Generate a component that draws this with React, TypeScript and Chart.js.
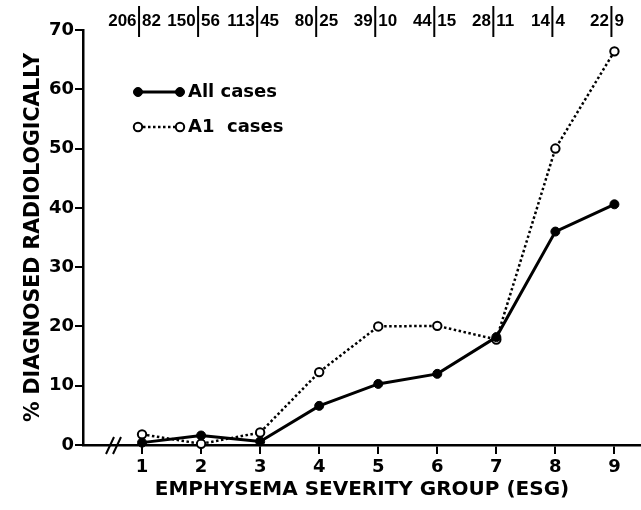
import React, { useEffect, useRef } from "react";
import { Chart, registerables } from "chart.js";
Chart.register(...registerables);

const groups = [1, 2, 3, 4, 5, 6, 7, 8, 9];
const allCases = [0.4, 1.6, 0.6, 6.6, 10.3, 12.0, 18.2, 36.0, 40.6];
const a1Cases = [1.8, 0.2, 2.1, 12.3, 20.0, 20.1, 17.8, 50.0, 66.4];
const allCounts = [206, 150, 113, 80, 39, 44, 28, 14, 22];
const a1Counts = [82, 56, 45, 25, 10, 15, 11, 4, 9];
const seriesLabels = ["All cases", "A1  cases"];
const xTitle = "EMPHYSEMA SEVERITY GROUP (ESG)";
const yTitle = "% DIAGNOSED RADIOLOGICALLY";

const FONT = "'DejaVu Sans', sans-serif";
const NUMFONT = "'Liberation Sans', Arial, sans-serif";
const INK = "#000";

const headerPlugin = {
  id: "header",
  afterDraw(chart: any) {
    const { ctx } = chart;
    const xs = chart.scales.x;
    ctx.save();
    ctx.fillStyle = INK;
    ctx.strokeStyle = INK;
    ctx.lineWidth = 2;
    ctx.font = `bold 17px ${NUMFONT}`;
    ctx.textBaseline = "middle";
    groups.forEach((g, i) => {
      const x = xs.getPixelForValue(g) - 3;
      ctx.beginPath();
      ctx.moveTo(x, 6);
      ctx.lineTo(x, 37);
      ctx.stroke();
      ctx.textAlign = "right";
      ctx.fillText(String(allCounts[i]), x - 2.5, 21);
      ctx.textAlign = "left";
      ctx.fillText(String(a1Counts[i]), x + 3, 21);
    });
    ctx.restore();
  },
};

const legendPlugin = {
  id: "customLegend",
  afterDraw(chart: any) {
    const { ctx } = chart;
    const rows = [
      { y: 92, ds: chart.data.datasets[0] },
      { y: 127, ds: chart.data.datasets[1] },
    ];
    ctx.save();
    rows.forEach(({ y, ds }, i) => {
      const x0 = 138;
      const x1 = 180;
      ctx.beginPath();
      ctx.strokeStyle = ds.borderColor;
      ctx.lineWidth = ds.borderWidth;
      ctx.setLineDash(ds.borderDash || []);
      ctx.moveTo(x0, y);
      ctx.lineTo(x1, y);
      ctx.stroke();
      ctx.setLineDash([]);
      [x0, x1].forEach((px) => {
        ctx.beginPath();
        ctx.arc(px, y, ds.pointRadius, 0, Math.PI * 2);
        ctx.fillStyle = ds.pointBackgroundColor;
        ctx.fill();
        ctx.lineWidth = ds.pointBorderWidth;
        ctx.strokeStyle = ds.pointBorderColor;
        ctx.stroke();
      });
      ctx.fillStyle = INK;
      ctx.font = `bold 18px ${FONT}`;
      ctx.textAlign = "left";
      ctx.textBaseline = "middle";
      ctx.fillText(seriesLabels[i], 188, y);
    });
    ctx.restore();
  },
};

const breakPlugin = {
  id: "axisBreak",
  afterDraw(chart: any) {
    const { ctx, chartArea } = chart;
    const b = chartArea.bottom;
    const l = chartArea.left;
    ctx.save();
    ctx.strokeStyle = INK;
    ctx.lineWidth = 2;
    [23, 30].forEach((dx) => {
      ctx.beginPath();
      ctx.moveTo(l + dx, b + 9);
      ctx.lineTo(l + dx + 8, b - 8);
      ctx.stroke();
    });
    ctx.restore();
  },
};

export default function App() {
  const ref = useRef<HTMLCanvasElement | null>(null);
  useEffect(() => {
    if (!ref.current) return;
    const chart = new Chart(ref.current, {
      type: "line",
      data: {
        datasets: [
          {
            label: seriesLabels[0],
            data: groups.map((g, i) => ({ x: g, y: allCases[i] })),
            borderColor: INK,
            borderWidth: 3,
            pointRadius: 4.5,
            pointBackgroundColor: INK,
            pointBorderColor: INK,
            pointBorderWidth: 1,
            tension: 0,
            clip: false,
          } as any,
          {
            label: seriesLabels[1],
            data: groups.map((g, i) => ({ x: g, y: a1Cases[i] })),
            borderColor: INK,
            borderWidth: 2.5,
            borderDash: [2.5, 2.5],
            pointRadius: 4.2,
            pointBackgroundColor: "#fff",
            pointBorderColor: INK,
            pointBorderWidth: 2,
            tension: 0,
            clip: false,
          } as any,
        ],
      },
      options: {
        animation: false,
        responsive: true,
        maintainAspectRatio: false,
        layout: { autoPadding: false, padding: { top: 30, right: 0, left: 0, bottom: 0 } },
        plugins: { legend: { display: false }, tooltip: { enabled: false } },
        scales: {
          x: {
            type: "linear",
            min: 0,
            max: 9.45,
            afterBuildTicks: (s: any) => {
              s.ticks = groups.map((g) => ({ value: g }));
            },
            afterFit: (s: any) => {
              s.height = 65;
              s.paddingRight = 0;
              s.paddingLeft = 0;
            },
            border: { color: INK, width: 2.5 },
            grid: { drawOnChartArea: false, color: INK, lineWidth: 2, tickLength: 9 },
            ticks: { color: INK, padding: 3, font: { family: FONT, size: 18, weight: "bold" } },
            title: {
              display: true,
              text: xTitle,
              color: INK,
              padding: { top: 0, bottom: 8 },
              font: { family: FONT, size: 20, weight: "bold" },
            },
          },
          y: {
            type: "linear",
            min: 0,
            max: 70,
            ticks: { stepSize: 10, color: INK, padding: 1, font: { family: FONT, size: 18, weight: "bold" } },
            afterFit: (s: any) => {
              s.width = 83;
            },
            border: { color: INK, width: 2.5 },
            grid: { drawOnChartArea: false, color: INK, lineWidth: 2, tickLength: 8 },
            title: {
              display: true,
              text: yTitle,
              color: INK,
              padding: { top: 21, bottom: 0 },
              font: { family: FONT, size: 20.5, weight: "bold" },
            },
          },
        },
      } as any,
      plugins: [headerPlugin, legendPlugin, breakPlugin],
    });
    return () => chart.destroy();
  }, []);
  return (
    <div style={{ position: "fixed", left: 0, top: 0, width: 641, height: 510, background: "#fff" }}>
      <canvas ref={ref} />
    </div>
  );
}
